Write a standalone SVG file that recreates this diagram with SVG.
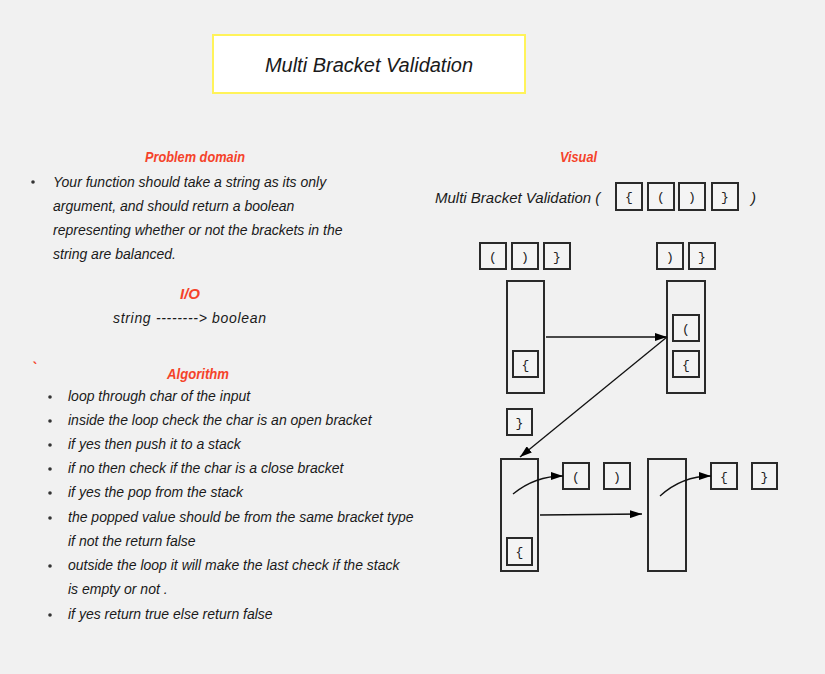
<svg xmlns="http://www.w3.org/2000/svg" width="825" height="674" viewBox="0 0 825 674">
<defs>
<style>
.hand{font-family:"Liberation Sans","DejaVu Sans",sans-serif;font-style:italic;fill:#1a1a1a}
.head{font-family:"Liberation Sans","DejaVu Sans",sans-serif;font-style:italic;font-weight:bold;fill:#f5432a;font-size:15px}
.body{font-size:14px}
.box{fill:#f4f4f4;stroke:#2a2a2a;stroke-width:2}
.stack{fill:none;stroke:#2a2a2a;stroke-width:2}
.ch{font-family:"Liberation Mono","DejaVu Sans Mono",monospace;font-size:13px;fill:#222;text-anchor:middle}
.conn{fill:none;stroke:#111;stroke-width:1.3}
.dot{fill:#333}
</style>
<marker id="arr" viewBox="0 0 12 8" refX="12" refY="4" markerWidth="12" markerHeight="8" markerUnits="userSpaceOnUse" orient="auto">
<path d="M0,0 L12,4 L0,8 z" fill="#000"/>
</marker>
</defs>
<rect width="825" height="674" fill="#f1f1f1"/>

<g id="title">
<rect x="213" y="35" width="312" height="58" fill="#fff" stroke="#fff35a" stroke-width="2"/>
<text class="hand" x="369" y="72" font-size="20" text-anchor="middle">Multi Bracket Validation</text>
</g>

<g id="problem-domain">
<text class="head" x="145" y="162" textLength="100" lengthAdjust="spacingAndGlyphs">Problem domain</text>
<circle class="dot" cx="33" cy="182" r="1.8"/>
<text class="hand body" x="53" y="187">Your function should take a string as its only</text>
<text class="hand body" x="53" y="211">argument, and should return a boolean</text>
<text class="hand body" x="53" y="235">representing whether or not the brackets in the</text>
<text class="hand body" x="53" y="259">string are balanced.</text>
</g>

<g id="io">
<text class="head" x="190" y="299" font-size="16" text-anchor="middle">I/O</text>
<text class="hand body" x="113" y="323" textLength="153" lengthAdjust="spacing">string --------&gt; boolean</text>
</g>

<g id="algorithm">
<text class="head" x="31" y="373" font-size="12">`</text>
<text class="head" x="167" y="379" textLength="62" lengthAdjust="spacingAndGlyphs">Algorithm</text>
<g class="dot">
<circle cx="50" cy="397" r="1.8"/>
<circle cx="50" cy="421" r="1.8"/>
<circle cx="50" cy="445" r="1.8"/>
<circle cx="50" cy="469" r="1.8"/>
<circle cx="50" cy="493" r="1.8"/>
<circle cx="50" cy="518" r="1.8"/>
<circle cx="50" cy="566" r="1.8"/>
<circle cx="50" cy="615" r="1.8"/>
</g>
<text class="hand body" x="68" y="401">loop through char of the input</text>
<text class="hand body" x="68" y="425">inside the loop check the char is an open bracket</text>
<text class="hand body" x="68" y="449">if yes then push it to a stack</text>
<text class="hand body" x="68" y="473">if no then check if the char is a close bracket</text>
<text class="hand body" x="68" y="497">if yes the pop from the stack</text>
<text class="hand body" x="68" y="522">the popped value should be from the same bracket type</text>
<text class="hand body" x="68" y="546">if not the return false</text>
<text class="hand body" x="68" y="570">outside the loop it will make the last check if the stack</text>
<text class="hand body" x="68" y="594">is empty or not .</text>
<text class="hand body" x="68" y="619">if yes return true else return false</text>
</g>

<g id="visual-heading">
<text class="head" x="560" y="162" textLength="37" lengthAdjust="spacingAndGlyphs">Visual</text>
</g>

<g id="input-line">
<text class="hand" font-size="15" x="435" y="203">Multi Bracket Validation (</text>
<rect class="box" x="616" y="183" width="26" height="27"/><text class="ch" x="629" y="201">{</text>
<rect class="box" x="648" y="183" width="26" height="27"/><text class="ch" x="661" y="201">(</text>
<rect class="box" x="679" y="183" width="26" height="27"/><text class="ch" x="692" y="201">)</text>
<rect class="box" x="712" y="183" width="26" height="27"/><text class="ch" x="725" y="201">}</text>
<text class="hand" font-size="15" x="751" y="203">)</text>
</g>

<g id="step1-remaining">
<rect class="box" x="480" y="243" width="26" height="26"/><text class="ch" x="493" y="261">(</text>
<rect class="box" x="512" y="243" width="26" height="26"/><text class="ch" x="525" y="261">)</text>
<rect class="box" x="544" y="243" width="26" height="26"/><text class="ch" x="557" y="261">}</text>
</g>

<g id="stack1">
<rect class="stack" x="507" y="281" width="37" height="112"/>
<rect class="box" x="513" y="351" width="25" height="26"/><text class="ch" x="525.5" y="369">{</text>
</g>

<g id="step2-remaining">
<rect class="box" x="657" y="243" width="26" height="26"/><text class="ch" x="670" y="261">)</text>
<rect class="box" x="689" y="243" width="26" height="26"/><text class="ch" x="702" y="261">}</text>
</g>

<g id="stack2">
<rect class="stack" x="667" y="281" width="38" height="112"/>
<rect class="box" x="673" y="315" width="26" height="26"/><text class="ch" x="686" y="333">(</text>
<rect class="box" x="673" y="351" width="26" height="26"/><text class="ch" x="686" y="369">{</text>
</g>

<g id="step3-remaining">
<rect class="box" x="507" y="409" width="25" height="26"/><text class="ch" x="519.5" y="427">}</text>
</g>

<g id="stack3">
<rect class="stack" x="501" y="459" width="37" height="112"/>
<rect class="box" x="507" y="538" width="25" height="27"/><text class="ch" x="519.5" y="556">{</text>
</g>

<g id="popped1">
<rect class="box" x="563" y="463" width="26" height="26"/><text class="ch" x="576" y="481">(</text>
<rect class="box" x="604" y="463" width="26" height="26"/><text class="ch" x="617" y="481">)</text>
</g>

<g id="stack4">
<rect class="stack" x="648" y="459" width="38" height="112"/>
</g>

<g id="popped2">
<rect class="box" x="711" y="463" width="26" height="26"/><text class="ch" x="724" y="481">{</text>
<rect class="box" x="752" y="463" width="25" height="26"/><text class="ch" x="764.5" y="481">}</text>
</g>

<g id="connectors">
<line class="conn" x1="546" y1="337" x2="667" y2="337" marker-end="url(#arr)"/>
<line class="conn" x1="667" y1="337" x2="520" y2="457" marker-end="url(#arr)"/>
<path class="conn" d="M513,494 Q535,476 563,476" marker-end="url(#arr)"/>
<line class="conn" x1="540" y1="515" x2="642" y2="514" marker-end="url(#arr)"/>
<path class="conn" d="M660,496 Q682,476 711,476" marker-end="url(#arr)"/>
</g>
</svg>
